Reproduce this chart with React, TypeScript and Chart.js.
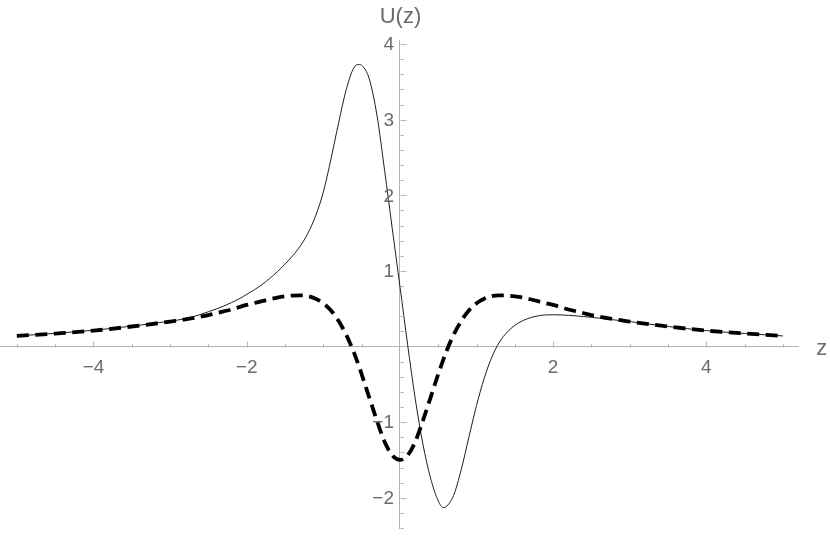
import { useEffect, useRef } from 'react';
import { Chart, registerables } from 'chart.js';

Chart.register(...registerables);

// ---- data ----
const zValues = [
  -5, -4.5, -4, -3.5,
  -3, -2.9, -2.8, -2.7, -2.6, -2.5, -2.4, -2.3, -2.2, -2.1,
  -2, -1.9, -1.8, -1.7, -1.6, -1.5, -1.4, -1.3, -1.2, -1.1,
  -1, -0.9, -0.8, -0.7, -0.6, -0.535, -0.5, -0.4, -0.3, -0.2, -0.1,
  0, 0.1, 0.2, 0.3, 0.4, 0.5, 0.565, 0.6, 0.7, 0.8, 0.9,
  1, 1.1, 1.2, 1.3, 1.4, 1.5, 1.6, 1.7, 1.8, 1.9,
  2, 2.1, 2.2, 2.3, 2.4, 2.5, 2.6, 2.7, 2.8, 2.9,
  3, 3.5, 4, 4.5, 5,
];

const solidU = [
  0.14, 0.175, 0.215, 0.27,
  0.335, 0.35, 0.37, 0.395, 0.425, 0.46, 0.495, 0.535, 0.58, 0.63,
  0.69, 0.75, 0.82, 0.9, 0.99, 1.09, 1.2, 1.33, 1.5, 1.73,
  2.04, 2.48, 2.96, 3.4, 3.69, 3.73, 3.72, 3.54, 3.06, 2.33, 1.56,
  0.8, 0.03, -0.69, -1.29, -1.74, -2.04, -2.13, -2.12, -1.97, -1.63, -1.2,
  -0.78, -0.42, -0.14, 0.06, 0.19, 0.28, 0.34, 0.38, 0.405, 0.418,
  0.42, 0.418, 0.413, 0.405, 0.396, 0.386, 0.375, 0.363, 0.352, 0.341,
  0.33, 0.265, 0.21, 0.172, 0.14,
];

const dashedU = [
  0.14, 0.172, 0.21, 0.265,
  0.33, 0.345, 0.36, 0.375, 0.395, 0.415, 0.44, 0.465, 0.49, 0.52,
  0.55, 0.575, 0.6, 0.625, 0.648, 0.664, 0.674, 0.676, 0.668, 0.632,
  0.572, 0.478, 0.338, 0.153, -0.08, -0.26, -0.365, -0.675, -0.98, -1.26, -1.44,
  -1.5, -1.44, -1.26, -0.98, -0.675, -0.365, -0.177, -0.08, 0.153, 0.338, 0.478,
  0.572, 0.632, 0.668, 0.676, 0.674, 0.664, 0.648, 0.625, 0.6, 0.575,
  0.55, 0.52, 0.49, 0.465, 0.44, 0.415, 0.395, 0.375, 0.36, 0.345,
  0.33, 0.265, 0.21, 0.172, 0.14,
];

const xTickLabels = [-4, -2, 2, 4];
const yTickLabels = [-2, -1, 1, 2, 3, 4];
const xMinorTicks = [-5, -4.5, -4, -3.5, -3, -2.5, -2, -1.5, -1, -0.5, 0.5, 1, 1.5, 2, 2.5, 3, 3.5, 4, 4.5, 5];
const yMinorStep = 0.2;
const xAxisTitle = 'z';
const yAxisTitle = 'U(z)';

// ---- styles ----
const TEXT = '#6b6b6b';
const AXIS = '#b3b3b3';
const FONT = '"Liberation Sans", Arial, sans-serif';
const TICK_SIZE = 19;

const fmt = (v: number) => (v < 0 ? '\u2212' + Math.abs(v) : String(v));

const axisDecor = {
  id: 'axisDecor',
  afterDraw(chart: any) {
    const { ctx, scales } = chart;
    const xs = scales.x;
    const ys = scales.y;
    const x0 = Math.round(xs.getPixelForValue(0)) + 0.5;
    const y0 = Math.round(ys.getPixelForValue(0)) + 0.5;
    ctx.save();
    ctx.strokeStyle = AXIS;
    ctx.lineWidth = 1;
    ctx.beginPath();
    xMinorTicks.forEach((v) => {
      const px = Math.round(xs.getPixelForValue(v)) + 0.5;
      const len = xTickLabels.includes(v) ? 6 : 3.5;
      ctx.moveTo(px, y0);
      ctx.lineTo(px, y0 - len);
    });
    for (let i = Math.ceil(ys.min / yMinorStep - 1e-6); i * yMinorStep <= ys.max + 1e-6; i++) {
      if (i === 0) continue;
      const v = Math.round(i * yMinorStep * 10) / 10;
      const py = Math.round(ys.getPixelForValue(v)) + 0.5;
      const len = yTickLabels.includes(v) ? 6 : 3.5;
      ctx.moveTo(x0, py);
      ctx.lineTo(x0 + len, py);
    }
    ctx.stroke();

    // y tick labels, left of the axis
    ctx.fillStyle = TEXT;
    ctx.font = `${TICK_SIZE}px ${FONT}`;
    ctx.textAlign = 'right';
    ctx.textBaseline = 'middle';
    yTickLabels.forEach((v) => {
      ctx.fillText(fmt(v), x0 - 6.5, ys.getPixelForValue(v) + 1);
    });

    // axis titles
    ctx.font = `22px ${FONT}`;
    ctx.textAlign = 'center';
    ctx.fillText(yAxisTitle, x0, 17);
    ctx.textAlign = 'left';
    ctx.fillText(xAxisTitle, xs.right + 18, y0 + 1);
    ctx.restore();
  },
};

export default function App() {
  const ref = useRef<HTMLCanvasElement>(null);
  useEffect(() => {
    const chart = new Chart(ref.current as HTMLCanvasElement, {
      type: 'line',
      data: {
        datasets: [
          {
            label: 'dashed',
            data: zValues.map((z, i) => ({ x: z, y: dashedU[i] })),
            borderColor: '#000',
            borderWidth: 3.8,
            borderDash: [12, 6.5],
            borderCapStyle: 'butt',
            pointRadius: 0,
            cubicInterpolationMode: 'monotone',
            fill: false,
          },
          {
            label: 'solid',
            data: zValues.map((z, i) => ({ x: z, y: solidU[i] })),
            borderColor: '#1e1e1e',
            borderWidth: 1,
            pointRadius: 0,
            cubicInterpolationMode: 'monotone',
            fill: false,
          },
        ],
      } as any,
      options: {
        animation: false,
        responsive: true,
        maintainAspectRatio: false,
        layout: { padding: { left: 0, right: 31.7, top: 40.3, bottom: 9 } },
        plugins: { legend: { display: false }, tooltip: { enabled: false } },
        scales: {
          x: {
            type: 'linear',
            min: -5.22,
            max: 5.2,
            position: { y: 0 },
            grid: { display: false, drawTicks: false },
            border: { display: true, color: AXIS, width: 1 },
            ticks: {
              color: TEXT,
              font: { family: FONT, size: TICK_SIZE },
              padding: 10,
              maxRotation: 0,
              autoSkip: false,
              callback: (v: any) => fmt(Number(v)),
            },
            afterBuildTicks: (s: any) => {
              s.ticks = xTickLabels.map((v) => ({ value: v }));
            },
            afterFit: (s: any) => {
              s.paddingLeft = 0;
              s.paddingRight = 0;
            },
          },
          y: {
            type: 'linear',
            min: -2.4,
            max: 4.05,
            position: { x: 0 },
            grid: { display: false, drawTicks: false },
            border: { display: true, color: AXIS, width: 1 },
            ticks: { display: false },
            afterBuildTicks: (s: any) => {
              s.ticks = yTickLabels.map((v) => ({ value: v }));
            },
            afterFit: (s: any) => {
              s.paddingTop = 0;
              s.paddingBottom = 0;
            },
          },
        },
      } as any,
      plugins: [axisDecor],
    });
    return () => chart.destroy();
  }, []);
  return (
    <div style={{ position: 'fixed', left: 0, top: 0, width: 830, height: 537, background: '#fff' }}>
      <canvas ref={ref} />
    </div>
  );
}
